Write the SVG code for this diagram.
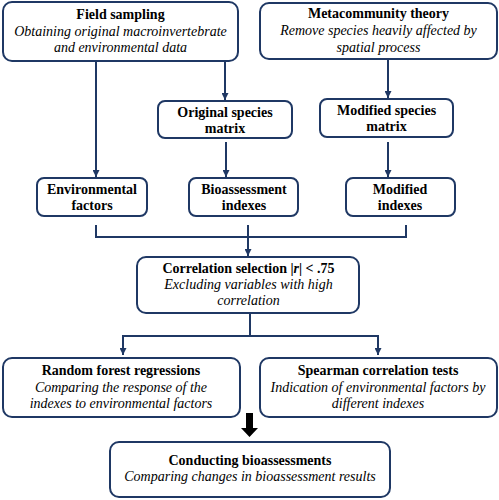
<svg xmlns="http://www.w3.org/2000/svg" width="499" height="500" viewBox="0 0 499 500">
<style>
.box{fill:#fff;stroke:#1f3864;stroke-width:2}
.ln{fill:none;stroke:#1f3864;stroke-width:2}
text{font-family:'Liberation Serif','Times New Roman',serif;font-size:14px;fill:#000;text-anchor:middle}
.t{font-weight:bold}
.i{font-style:italic}
</style>
<defs>
<marker id="ah" viewBox="0 0 10 10" refX="10" refY="5" markerWidth="3.5" markerHeight="3.5" orient="auto" markerUnits="strokeWidth">
<path d="M0,0 L10,5 L0,10 z" fill="#1f3864"/>
</marker>
</defs>
<rect width="499" height="500" fill="#fff"/>
<g id="connectors">
<line class="ln" x1="96" y1="61" x2="96" y2="177" marker-end="url(#ah)"/>
<line class="ln" x1="225" y1="62" x2="225" y2="100" marker-end="url(#ah)"/>
<line class="ln" x1="388" y1="59" x2="388" y2="98" marker-end="url(#ah)"/>
<line class="ln" x1="226" y1="142" x2="226" y2="177" marker-end="url(#ah)"/>
<line class="ln" x1="388" y1="142" x2="388" y2="177" marker-end="url(#ah)"/>
<polyline class="ln" points="96,225 96,237 406,237 406,225"/>
<line class="ln" x1="248" y1="225" x2="248" y2="237"/>
<line class="ln" x1="248" y1="237" x2="248" y2="256" marker-end="url(#ah)"/>
<line class="ln" x1="250" y1="314" x2="250" y2="336"/>
<line class="ln" x1="123" y1="336" x2="378" y2="336"/>
<line class="ln" x1="123" y1="335" x2="123" y2="355" marker-end="url(#ah)"/>
<line class="ln" x1="378" y1="335" x2="378" y2="355" marker-end="url(#ah)"/>
<path d="M246,413 H253 V428 H258 L249.5,437 L241,428 H246 Z" fill="#000"/>
</g>
<g id="field-sampling">
<rect class="box" x="3" y="2" width="235" height="59" rx="9"/>
<text class="t" x="120.5" y="19">Field sampling</text>
<text class="i" x="120.5" y="36">Obtaining original macroinvertebrate</text>
<text class="i" x="120.5" y="52">and environmental data</text>
</g>
<g id="metacommunity-theory">
<rect class="box" x="260" y="3" width="237" height="56" rx="9"/>
<text class="t" x="378.5" y="18">Metacommunity theory</text>
<text class="i" x="378.5" y="35">Remove species heavily affected by</text>
<text class="i" x="378.5" y="52">spatial process</text>
</g>
<g id="original-species-matrix">
<rect class="box" x="158" y="101" width="134" height="37" rx="7"/>
<text class="t" x="225" y="117">Original species</text>
<text class="t" x="225" y="133">matrix</text>
</g>
<g id="modified-species-matrix">
<rect class="box" x="320" y="99" width="133" height="38" rx="7"/>
<text class="t" x="386.5" y="115">Modified species</text>
<text class="t" x="386.5" y="131">matrix</text>
</g>
<g id="environmental-factors">
<rect class="box" x="37" y="178" width="110" height="38" rx="7"/>
<text class="t" x="92" y="194">Environmental</text>
<text class="t" x="92" y="210">factors</text>
</g>
<g id="bioassessment-indexes">
<rect class="box" x="189" y="178" width="109" height="38" rx="7"/>
<text class="t" x="244" y="194">Bioassessment</text>
<text class="t" x="244" y="210">indexes</text>
</g>
<g id="modified-indexes">
<rect class="box" x="346" y="178" width="109" height="38" rx="7"/>
<text class="t" x="400" y="194">Modified</text>
<text class="t" x="400" y="210">indexes</text>
</g>
<g id="correlation-selection">
<rect class="box" x="137" y="257" width="222" height="56" rx="9"/>
<text class="t" x="248.5" y="273">Correlation selection |<tspan class="i">r</tspan>| &lt; .75</text>
<text class="i" x="248.5" y="289">Excluding variables with high</text>
<text class="i" x="248.5" y="305">correlation</text>
</g>
<g id="random-forest-regressions">
<rect class="box" x="3" y="358" width="237" height="59" rx="9"/>
<text class="t" x="121" y="375">Random forest regressions</text>
<text class="i" x="121" y="392">Comparing the response of the</text>
<text class="i" x="121" y="408">indexes to environmental factors</text>
</g>
<g id="spearman-correlation-tests">
<rect class="box" x="260" y="358" width="237" height="59" rx="9"/>
<text class="t" x="378" y="375">Spearman correlation tests</text>
<text class="i" x="378" y="392">Indication of environmental factors by</text>
<text class="i" x="378" y="408">different indexes</text>
</g>
<g id="conducting-bioassessments">
<rect class="box" x="110" y="442" width="280" height="55" rx="9"/>
<text class="t" x="250" y="465">Conducting bioassessments</text>
<text class="i" x="250" y="481">Comparing changes in bioassessment results</text>
</g>
</svg>
